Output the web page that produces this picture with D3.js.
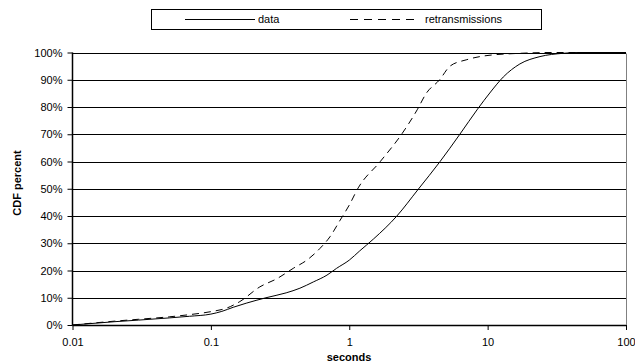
<!DOCTYPE html>
<html>
<head>
<meta charset="utf-8">
<script src="https://cdn.jsdelivr.net/npm/d3@7"></script>
<style>
  html, body { margin: 0; padding: 0; background: #fff; }
  svg { display: block; font-family: Arial, "Liberation Sans", sans-serif; }
</style>
</head>
<body>
<svg id="chart" width="635" height="364"></svg>
<script>
// ---- data (seconds, CDF percent) ----
const dataSeconds = [0.01, 0.02, 0.03, 0.05, 0.07, 0.1, 0.12, 0.145, 0.18, 0.25, 0.35, 0.44, 0.55, 0.69, 0.81, 1.0, 1.19, 1.5, 2.2, 3.15, 4.52, 6.3, 8.45, 10.5, 12.97, 17.1, 23.9, 35, 45, 100];
const dataPercent = [0, 1.2, 1.8, 2.6, 3.2, 4, 5, 6.5, 8, 10, 11.8, 13.5, 15.8, 18.3, 20.8, 23.8, 27.2, 31.6, 39.9, 49.8, 59.9, 70, 79.2, 85.5, 91, 95.8, 98.5, 99.7, 100, 100];

const retransSeconds = [0.01, 0.02, 0.03, 0.05, 0.07, 0.1, 0.13, 0.162, 0.226, 0.3, 0.394, 0.5, 0.614, 0.726, 0.86, 1.0, 1.16, 1.67, 2.39, 3.1, 3.6, 4.5, 5.35, 7, 9.3, 17.1, 30, 100];
const retransPercent = [0, 1.4, 2.1, 3, 3.8, 4.9, 6.2, 8.6, 14, 17, 20.8, 24, 28.1, 32.4, 38.5, 44, 50.3, 59.9, 70, 79, 85, 90, 95, 97.3, 98.7, 99.7, 100, 100];

const xTicks = [0.01, 0.1, 1, 10, 100];
const xTickLabels = ["0.01", "0.1", "1", "10", "100"];
const yTicks = [0, 10, 20, 30, 40, 50, 60, 70, 80, 90, 100];
const yTickLabels = yTicks.map(d => d + "%");
const seriesNames = ["data", "retransmissions"];

// ---- layout ----
const mLeft = 72.5, mRight = 626, mTop = 52.5, mBottom = 325;
const svg = d3.select("#chart");

const x = d3.scaleLog().domain([0.01, 100]).range([mLeft, mRight]);
const y = d3.scaleLinear().domain([0, 100]).range([mBottom, mTop]);

// gridlines
svg.append("g").selectAll("line").data(yTicks.filter(d => d > 0)).join("line")
  .attr("x1", mLeft).attr("x2", mRight)
  .attr("y1", d => Math.round(y(d)) + 0.5).attr("y2", d => Math.round(y(d)) + 0.5)
  .attr("stroke", "#000").attr("stroke-width", 1);

// right border
svg.append("line").attr("x1", mRight + 0.5).attr("x2", mRight + 0.5)
  .attr("y1", Math.round(y(100)) + 0.5).attr("y2", mBottom)
  .attr("stroke", "#808080").attr("stroke-width", 1);

// axes
const xAxis = d3.axisBottom(x).tickValues(xTicks).tickFormat((d, i) => xTickLabels[i]).tickSize(5).tickPadding(8);
const gx = svg.append("g").attr("transform", `translate(0,${mBottom})`).call(xAxis);
gx.select(".domain").attr("stroke", "#000").attr("stroke-width", 1.5).attr("d", `M${mLeft},0.5H${mRight}`);
gx.selectAll(".tick line").attr("stroke", "#000");
gx.selectAll(".tick text").attr("font-size", 11).attr("fill", "#000").attr("font-family", "Arial, 'Liberation Sans', sans-serif");

const yAxis = d3.axisLeft(y).tickValues(yTicks).tickFormat((d, i) => yTickLabels[i]).tickSize(5).tickPadding(5);
const gy = svg.append("g").attr("transform", `translate(${mLeft},0)`).call(yAxis);
gy.select(".domain").attr("stroke", "#000").attr("stroke-width", 1.5).attr("d", `M0,${mTop}V${mBottom}`);
gy.selectAll(".tick line").attr("stroke", "#000");
gy.selectAll(".tick text").attr("font-size", 11).attr("fill", "#000").attr("font-family", "Arial, 'Liberation Sans', sans-serif");

// lines
const line = d3.line().x(d => x(d[0])).y(d => y(d[1])).curve(d3.curveMonotoneX);
const dataPts = dataSeconds.map((s, i) => [s, dataPercent[i]]);
const retPts = retransSeconds.map((s, i) => [s, retransPercent[i]]);

svg.append("path").datum(retPts).attr("d", line)
  .attr("fill", "none").attr("stroke", "#000").attr("stroke-width", 1).attr("stroke-dasharray", "7,5");
svg.append("path").datum(dataPts).attr("d", line)
  .attr("fill", "none").attr("stroke", "#000").attr("stroke-width", 1);

// axis titles
svg.append("text").attr("x", 349).attr("y", 361).attr("text-anchor", "middle")
  .attr("font-size", 11).attr("font-weight", "bold").text("seconds");
svg.append("text").attr("transform", "translate(21,183) rotate(-90)").attr("text-anchor", "middle")
  .attr("font-size", 11).attr("font-weight", "bold").text("CDF percent");

// legend
const lg = svg.append("g");
lg.append("rect").attr("x", 151.5).attr("y", 9.5).attr("width", 390).attr("height", 20)
  .attr("fill", "#fff").attr("stroke", "#000").attr("stroke-width", 1);
lg.append("line").attr("x1", 185).attr("x2", 255).attr("y1", 19.5).attr("y2", 19.5).attr("stroke", "#000");
lg.append("text").attr("x", 258).attr("y", 23).attr("font-size", 11).text(seriesNames[0]);
lg.append("line").attr("x1", 350).attr("x2", 420).attr("y1", 19.5).attr("y2", 19.5)
  .attr("stroke", "#000").attr("stroke-dasharray", "8,6");
lg.append("text").attr("x", 425).attr("y", 23).attr("font-size", 11).text(seriesNames[1]);
</script>
</body>
</html>
